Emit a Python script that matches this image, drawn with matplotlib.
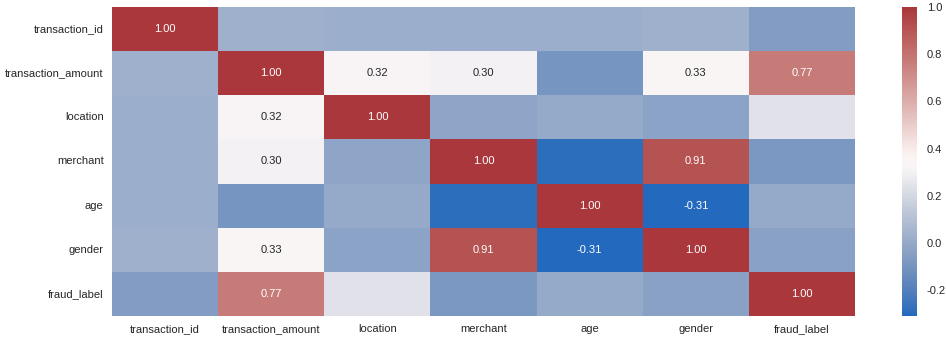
import numpy as np
import pandas as pd
import matplotlib
matplotlib.use("Agg")
import matplotlib.pyplot as plt
import seaborn as sns

labels = ["transaction_id", "transaction_amount", "location", "merchant",
          "age", "gender", "fraud_label"]

row_transaction_id     = [1.00, 0.03, 0.02, 0.02, 0.02, 0.03, -0.06]
row_transaction_amount = [0.03, 1.00, 0.32, 0.30, -0.10, 0.33, 0.77]
row_location           = [0.02, 0.32, 1.00, -0.02, 0.00, -0.03, 0.24]
row_merchant           = [0.02, 0.30, -0.02, 1.00, -0.29, 0.91, -0.08]
row_age                = [0.02, -0.10, 0.00, -0.29, 1.00, -0.31, 0.00]
row_gender             = [0.03, 0.33, -0.03, 0.91, -0.31, 1.00, -0.04]
row_fraud_label        = [-0.06, 0.77, 0.24, -0.08, 0.00, -0.04, 1.00]

corr = pd.DataFrame([row_transaction_id, row_transaction_amount, row_location,
                     row_merchant, row_age, row_gender, row_fraud_label],
                    index=labels, columns=labels)

# only annotate strong correlations
annot = corr.map(lambda v: f"{v:.2f}" if abs(v) >= 0.295 else "")

sns.set_style("white")
plt.rcParams['font.family'] = ['Liberation Sans', 'DejaVu Sans']
plt.rcParams['axes.unicode_minus'] = False

fig = plt.figure(figsize=(9.46, 3.41), dpi=100)
ax = fig.add_axes([0.1184, 0.0733, 0.7854, 0.9062])
cax = fig.add_axes([0.9535, 0.0733, 0.0159, 0.9062])

sns.heatmap(corr, ax=ax, cbar_ax=cax, cmap="vlag", annot=annot, fmt="",
            annot_kws={"fontsize": 8}, vmin=corr.values.min(), vmax=1.0)

ax.tick_params(axis="both", length=0, labelsize=8, colors="#262626")
ax.set_yticklabels(labels, rotation=0)
ax.set_xticklabels(labels, rotation=0)
ax.tick_params(axis="x", pad=6)
ax.tick_params(axis="y", pad=6)
cax.tick_params(length=0, labelsize=8, colors="#262626", pad=7)
cax.set_yticks([-0.2, 0.0, 0.2, 0.4, 0.6, 0.8, 1.0])
for s in cax.spines.values():
    s.set_visible(False)

fig.savefig("out.png", dpi=100)
